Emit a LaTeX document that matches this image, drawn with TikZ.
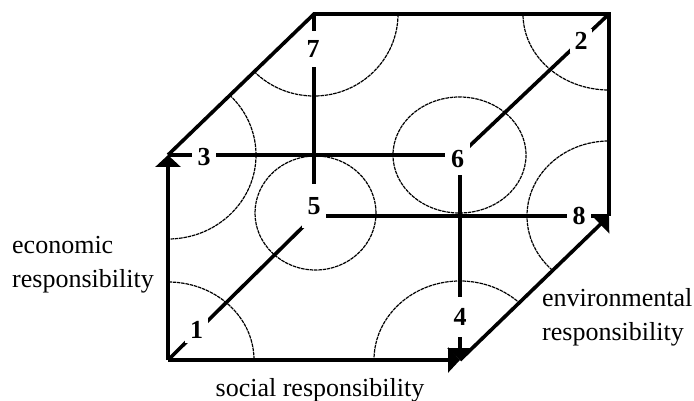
\documentclass[tikz,border=0pt]{standalone}
\usepackage{fontspec}
\setmainfont{Liberation Serif}
\usetikzlibrary{arrows.meta}
\begin{document}
\begin{tikzpicture}[x=1pt,y=-1pt,
  edgeline/.style={line width=3.6pt},
  axisarrow/.style={line width=3.6pt,-{Triangle[length=12pt,width=25pt]}},
  arcline/.style={line width=1.2pt,dash pattern=on 3.5pt off 0.8pt},
  vlabel/.style={fill=white,inner sep=0pt,font=\bfseries\fontsize{26}{30}\selectfont},
  axislabel/.style={inner sep=0pt,font=\fontsize{26}{34}\selectfont}]
\useasboundingbox (0,0) rectangle (694,401);
% cube vertices
\coordinate (v1) at (168,360);
\coordinate (v3) at (168,155);
\coordinate (v4) at (460,360);
\coordinate (v6) at (460,155);
\coordinate (v5) at (314,216);
\coordinate (v7) at (314,14);
\coordinate (v8) at (609,216);
\coordinate (v2) at (609,14);
% circles and arcs
\begin{scope}
  \clip (v1) -- (v4) -- (v8) -- (v2) -- (v7) -- (v3) -- cycle;
  \draw[arcline] (v1) ellipse [x radius=86, y radius=78];
  \draw[arcline] (v3) ellipse [x radius=88, y radius=84];
  \draw[arcline] (v7) ellipse [x radius=84, y radius=82];
  \draw[arcline] (v2) ellipse [x radius=86, y radius=76];
  \draw[arcline] (v8) ellipse [x radius=82, y radius=75];
  \draw[arcline] (v4) ellipse [x radius=86, y radius=79];
  \draw[arcline] (315.5,213) ellipse [x radius=60.5, y radius=57];
  \draw[arcline] (459.5,155) ellipse [x radius=66.5, y radius=58];
\end{scope}
% inner edges
\draw[edgeline] (v3) -- (v6);
\draw[axisarrow] (v6) -- (v4);
\draw[edgeline] (v7) -- (v5);
\draw[edgeline] (v5) -- (v8);
\draw[edgeline] (v1) -- (v5);
\draw[edgeline] (v6) -- (v2);
% vertex labels
\node[vlabel,minimum width=23pt,minimum height=25pt] (n1) at (196.5,330) {1};
\node[vlabel,minimum width=22pt,minimum height=24pt] (n2) at (581,41) {2};
\node[vlabel,minimum width=24pt,minimum height=20pt] (n3) at (204,157) {3};
\node[vlabel,minimum width=18pt,minimum height=40pt] (n4) at (460,317) {4};
\node[vlabel,minimum width=24pt,minimum height=44pt] (n5) at (314,206) {5};
\node[vlabel,minimum width=25pt,minimum height=32pt] (n6) at (457.5,159) {6};
\node[vlabel,minimum width=18pt,minimum height=36pt] (n7) at (313,49) {7};
\node[vlabel,minimum width=24pt,minimum height=20pt] (n8) at (579,216) {8};
% outer edges and axes
\draw[edgeline,line join=miter] (v3) -- (v7) -- (v2) -- (v8);
\draw[axisarrow] (v1) -- (v3);
\draw[axisarrow] (v1) -- (v4);
\draw[axisarrow] (v4) -- (v8);
% axis labels
\node[axislabel,align=left,anchor=base west] (econ) at (12,287) {economic\\responsibility};
\node[axislabel,anchor=base] (soc) at (320,396) {social responsibility};
\node[axislabel,align=left,anchor=base west] (env) at (542,340) {environmental\\responsibility};
\end{tikzpicture}
\end{document}
